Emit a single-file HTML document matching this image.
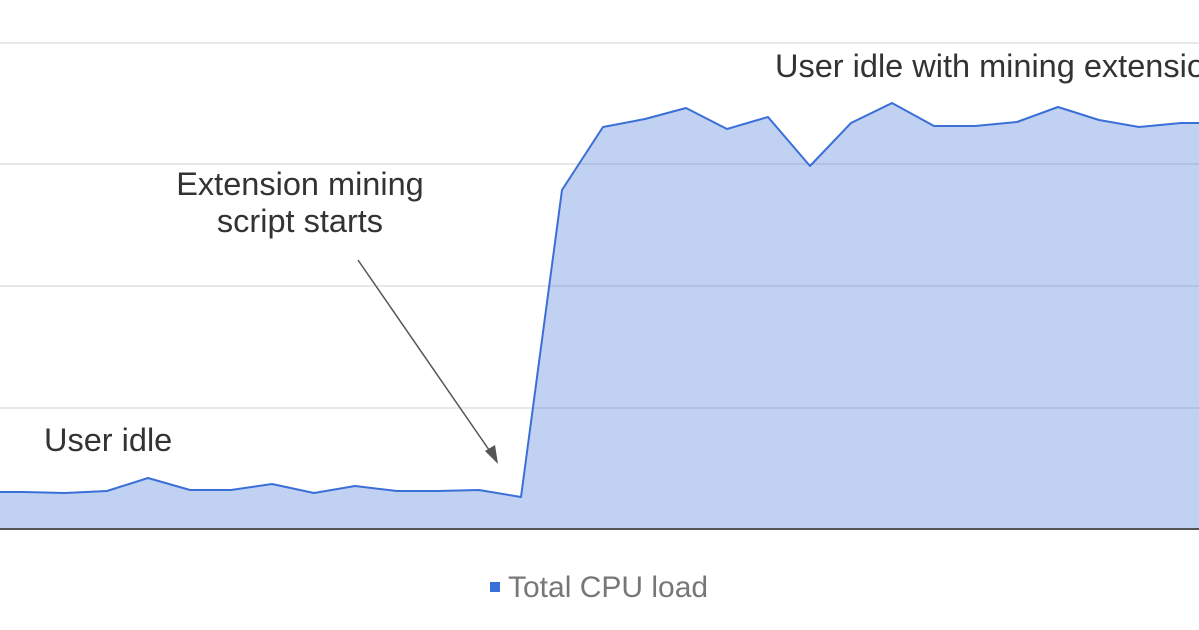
<!DOCTYPE html>
<html><head><meta charset="utf-8"><style>
html,body{margin:0;padding:0;background:#fff;}
svg{display:block;}
text{font-family:"Liberation Sans",sans-serif;}
</style></head><body>
<svg width="1199" height="630" viewBox="0 0 1199 630">
<g stroke="#e0e0e0" stroke-width="1.5">
<line x1="0" y1="43" x2="1199" y2="43"/>
<line x1="0" y1="164" x2="1199" y2="164"/>
<line x1="0" y1="286" x2="1199" y2="286"/>
<line x1="0" y1="408" x2="1199" y2="408"/>
</g>
<polygon fill="#4a78d8" fill-opacity="0.34" points="0,529 0,492 24,492 65,493 107,491 148,478 190,490 231,490 272,484 314,493 355,486 397,491 438,491 479,490 521,497 562,190 603,127 645,119 686,108 727,129 768,117 810,166 851,123 892,103 934,126 975,126 1017,122 1058,107 1099,120 1139,127 1181,123 1199,123 1199,529"/>
<polyline fill="none" stroke="#3b6fd8" stroke-width="2" stroke-linejoin="round" points="0,492 24,492 65,493 107,491 148,478 190,490 231,490 272,484 314,493 355,486 397,491 438,491 479,490 521,497 562,190 603,127 645,119 686,108 727,129 768,117 810,166 851,123 892,103 934,126 975,126 1017,122 1058,107 1099,120 1139,127 1181,123 1199,123"/>
<line x1="0" y1="529" x2="1199" y2="529" stroke="#555" stroke-width="2"/>
<line x1="358" y1="260" x2="496" y2="460" stroke="#555" stroke-width="1.5"/>
<polygon points="498,464 485,451 495,445" fill="#555"/>
<g fill="#333" font-size="32.5">
<text x="300" y="195" text-anchor="middle">Extension mining</text>
<text x="300" y="232" text-anchor="middle">script starts</text>
<text x="44" y="451">User idle</text>
<text x="775" y="77">User idle with mining extension</text>
</g>
<rect x="490" y="582" width="10" height="10" fill="#3b6fd8"/>
<text x="508" y="597" font-size="30" fill="#777">Total CPU load</text>
</svg>
</body></html>
